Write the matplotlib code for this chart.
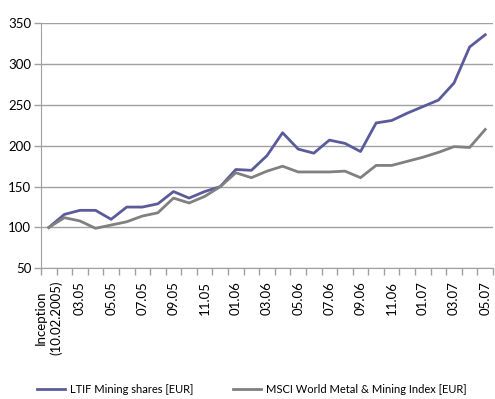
import matplotlib.pyplot as plt
import numpy as np

plt.rcParams['font.family'] = ['Lato', 'DejaVu Sans']

# Kategorien: Inception, dann Monatsende 02.05 ... 05.07
categories = ['Inception\n(10.02.2005)', '02.05', '03.05', '04.05', '05.05', '06.05',
              '07.05', '08.05', '09.05', '10.05', '11.05', '12.05', '01.06', '02.06',
              '03.06', '04.06', '05.06', '06.06', '07.06', '08.06', '09.06', '10.06',
              '11.06', '12.06', '01.07', '02.07', '03.07', '04.07', '05.07']

ltif = [100, 116, 121, 121, 110, 125, 125, 129, 144, 136, 144, 150, 171, 170,
        188, 216, 196, 191, 207, 203, 193, 228, 231, 240, 248, 256, 277, 321, 336]
msci = [100, 112, 108, 99, 103, 107, 114, 118, 136, 130, 138, 150, 167, 161,
        169, 175, 168, 168, 168, 169, 161, 176, 176, 181, 186, 192, 199, 198, 220]

labels = ['LTIF Mining shares [EUR]', 'MSCI World Metal & Mining Index [EUR]']
yticks = [50, 100, 150, 200, 250, 300, 350]

fig = plt.figure(figsize=(4.95, 3.99), dpi=100)
ax = fig.add_axes([0.0828, 0.3275, 0.9132, 0.6141])

x = np.arange(len(categories))
l1, = ax.plot(x, ltif, color='#5b5b9c', lw=2, zorder=3)
l2, = ax.plot(x, msci, color='#808080', lw=2, zorder=3)

ax.set_xlim(-0.5, len(categories) - 0.5)
ax.set_ylim(50, 350)
ax.set_yticks(yticks)
ax.yaxis.grid(True, color='#a0a0a0', lw=1)
ax.set_axisbelow(True)

# Striche zwischen den Kategorien, Beschriftung jede zweite
ax.set_xticks(x[::2])
ax.set_xticklabels(categories[::2], rotation=90, ha='center', va='top',
                   fontsize=9.5, linespacing=1.3)
ax.set_xticks(np.arange(-0.5, len(categories)), minor=True)
ax.tick_params(axis='x', which='major', length=0, pad=9)
ax.tick_params(axis='x', which='minor', length=5, color='#a0a0a0', width=1)
ax.tick_params(axis='y', length=5, color='#a0a0a0', width=1, labelsize=9.5, pad=2)

for s in ['top', 'right']:
    ax.spines[s].set_visible(False)
for s in ['left', 'bottom']:
    ax.spines[s].set_color('#a0a0a0')

# zwei Legenden-Einträge getrennt platzieren
leg_opts = dict(loc='lower left', frameon=False, fontsize=8, borderpad=0,
                borderaxespad=0, handlelength=2.5, handletextpad=0.45)
leg1 = fig.legend([l1], [labels[0]], bbox_to_anchor=(37 / 495, 0.01), **leg_opts)
leg2 = fig.legend([l2], [labels[1]], bbox_to_anchor=(233 / 495, 0.01), **leg_opts)

fig.savefig('out.png', dpi=100)
